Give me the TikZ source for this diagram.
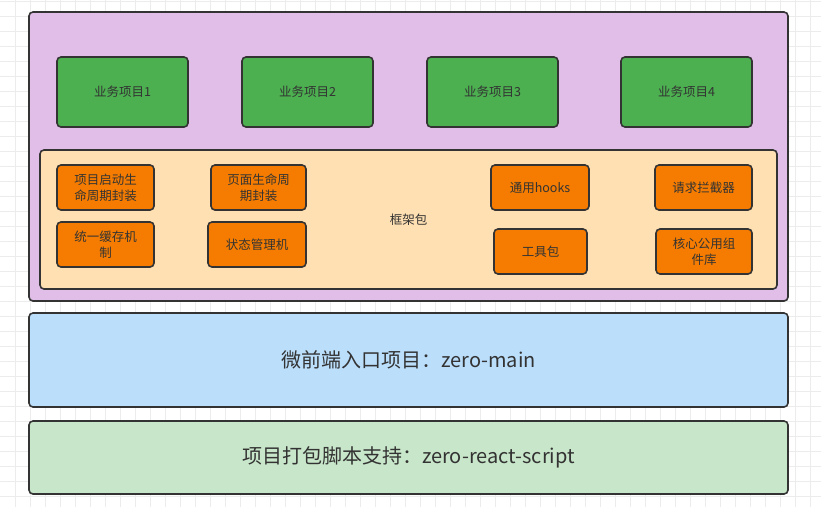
\documentclass[tikz,border=0pt]{standalone}
\usepackage{fontspec}
\newfontfamily\cjk{Noto Sans CJK SC}
\definecolor{gridgray}{HTML}{ECECEC}
\definecolor{edgegray}{HTML}{333333}
\definecolor{apppurple}{HTML}{E1BEE7}
\definecolor{bizgreen}{HTML}{4CAF50}
\definecolor{frameorange}{HTML}{FFE0B2}
\definecolor{modorange}{HTML}{F57C00}
\definecolor{mainblue}{HTML}{BBDEFB}
\definecolor{scriptgreen}{HTML}{C8E6C9}
\tikzset{
  box/.style={draw=edgegray, line width=1.6pt, rounded corners=4pt, inner sep=0pt,
    text=edgegray, font=\cjk\fontsize{12.5}{16}\selectfont, align=center},
  biz/.style={box, fill=bizgreen, minimum width=131, minimum height=70},
  module/.style={box, fill=modorange, minimum height=45},
  layer/.style={box, minimum width=759, font=\cjk\fontsize{20}{24}\selectfont},
}
\begin{document}
\begin{tikzpicture}[x=1pt, y=-1pt]
  \useasboundingbox (0,0) rectangle (821,507);
  \foreach \x in {15,30,...,810} {
    \draw[gridgray, line width=0.8pt] (\x,0) -- (\x,507);
  }
  \foreach \y in {1.5,16.5,...,501.5} {
    \draw[gridgray, line width=0.8pt] (0,\y) -- (821,\y);
  }
  % application layer
  \node[layer, fill=apppurple, minimum height=289] (app) at (408.5,156.5) {};
  \node[biz] (biz1) at (122.5,92) {业务项目1};
  \node[biz] (biz2) at (307.5,92) {业务项目2};
  \node[biz] (biz3) at (492.5,92) {业务项目3};
  \node[biz] (biz4) at (686.5,92) {业务项目4};
  % framework package
  \node[box, fill=frameorange, minimum width=737, minimum height=139] (frame) at (408.5,219.5) {框架包};
  \node[module, minimum width=97] (boot) at (105.5,187.5) {项目启动生\\命周期封装};
  \node[module, minimum width=95] (page) at (258.5,187.5) {页面生命周\\期封装};
  \node[module, minimum width=97] (cache) at (105.5,244.5) {统一缓存机\\制};
  \node[module, minimum width=98] (state) at (257,244.5) {状态管理机};
  \node[module, minimum width=98] (hooks) at (540,187.5) {通用hooks};
  \node[module, minimum width=97] (fetch) at (703.5,187.5) {请求拦截器};
  \node[module, minimum width=93] (tools) at (540.5,251.5) {工具包};
  \node[module, minimum width=96] (comps) at (704,251.5) {核心公用组\\件库};
  % base layers
  \node[layer, fill=mainblue, minimum height=94] (main) at (408.5,360) {微前端入口项目：zero-main};
  \node[layer, fill=scriptgreen, minimum height=73] (script) at (408.5,457.5) {项目打包脚本支持：zero-react-script};
\end{tikzpicture}
\end{document}
